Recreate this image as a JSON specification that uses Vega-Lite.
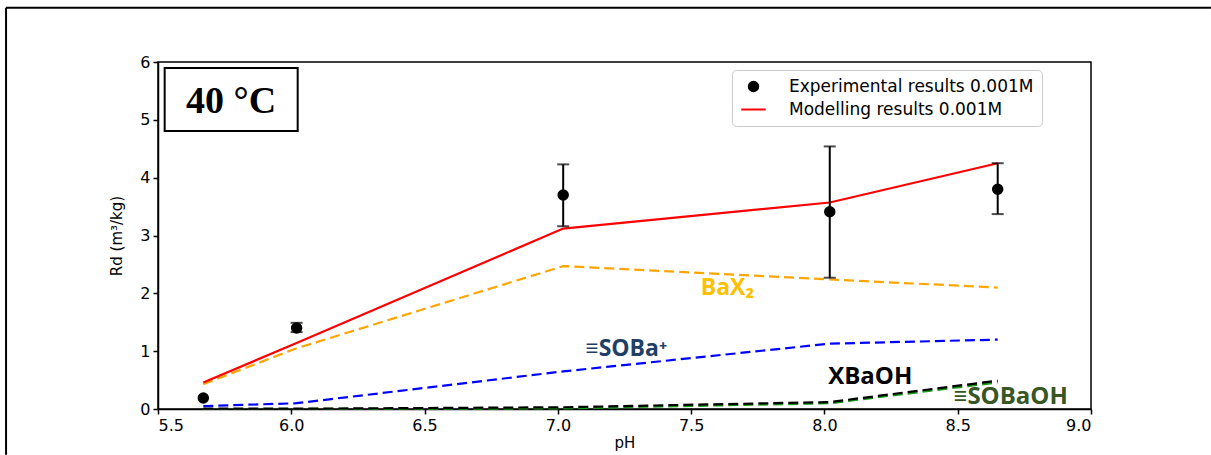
{
  "$schema": "https://vega.github.io/schema/vega-lite/v6.json",
  "autosize": "none",
  "width": 933,
  "height": 347,
  "padding": {"left": 158, "top": 62, "right": 120, "bottom": 46},
  "background": "white",
  "config": {
    "view": {"stroke": "black", "strokeWidth": 1.5},
    "axis": {
      "domainColor": "black", "domainWidth": 1.5, "tickColor": "black", "tickWidth": 1.5, "tickSize": 5,
      "labelColor": "black", "labelFont": "DejaVu Sans", "labelFontSize": 16,
      "titleFont": "DejaVu Sans", "titleFontSize": 15, "titleFontWeight": "normal", "titleColor": "black",
      "grid": false
    }
  },
  "datasets": {
    "model": [
      {"series": "Modelling", "pH": 5.67, "Rd": 0.46},
      {"series": "Modelling", "pH": 6.02, "Rd": 1.14},
      {"series": "Modelling", "pH": 7.02, "Rd": 3.12},
      {"series": "Modelling", "pH": 8.02, "Rd": 3.57},
      {"series": "Modelling", "pH": 8.65, "Rd": 4.25},
      {"series": "BaX2", "pH": 5.67, "Rd": 0.43},
      {"series": "BaX2", "pH": 6.02, "Rd": 1.05},
      {"series": "BaX2", "pH": 7.02, "Rd": 2.47},
      {"series": "BaX2", "pH": 8.02, "Rd": 2.24},
      {"series": "BaX2", "pH": 8.65, "Rd": 2.10},
      {"series": "SOBa", "pH": 5.67, "Rd": 0.05},
      {"series": "SOBa", "pH": 6.02, "Rd": 0.10},
      {"series": "SOBa", "pH": 7.02, "Rd": 0.65},
      {"series": "SOBa", "pH": 8.02, "Rd": 1.13},
      {"series": "SOBa", "pH": 8.65, "Rd": 1.20},
      {"series": "XBaOH", "pH": 5.67, "Rd": 0.005},
      {"series": "XBaOH", "pH": 6.02, "Rd": 0.005},
      {"series": "XBaOH", "pH": 7.02, "Rd": 0.03},
      {"series": "XBaOH", "pH": 8.02, "Rd": 0.12},
      {"series": "XBaOH", "pH": 8.65, "Rd": 0.49},
      {"series": "SOBaOH", "pH": 5.67, "Rd": 0.0},
      {"series": "SOBaOH", "pH": 6.02, "Rd": 0.0},
      {"series": "SOBaOH", "pH": 7.02, "Rd": 0.01},
      {"series": "SOBaOH", "pH": 8.02, "Rd": 0.10},
      {"series": "SOBaOH", "pH": 8.65, "Rd": 0.46}
    ],
    "exp": [
      {"series": "Experimental results 0.001M", "pH": 5.67, "Rd": 0.19},
      {"series": "Experimental results 0.001M", "pH": 6.02, "Rd": 1.40, "lo": 1.33, "hi": 1.49},
      {"series": "Experimental results 0.001M", "pH": 7.02, "Rd": 3.70, "lo": 3.16, "hi": 4.23},
      {"series": "Experimental results 0.001M", "pH": 8.02, "Rd": 3.41, "lo": 2.27, "hi": 4.54},
      {"series": "Experimental results 0.001M", "pH": 8.65, "Rd": 3.80, "lo": 3.37, "hi": 4.25}
    ]
  },
  "layer": [
    {
      "data": {"values": [
        {"x": 4.93, "x2": 9.45, "y": 6.94, "y2": 6.94},
        {"x": 4.93, "x2": 4.93, "y": 6.94, "y2": -0.79}
      ]},
      "mark": {"type": "rule", "color": "black", "strokeWidth": 2, "clip": false},
      "encoding": {
        "x": {"field": "x", "type": "quantitative", "scale": {"domain": [5.5, 9.0], "nice": false, "zero": false},
              "axis": {"title": "pH", "values": [5.5, 6.0, 6.5, 7.0, 7.5, 8.0, 8.5, 9.0], "format": ".1f", "labelPadding": 3, "titlePadding": 2}},
        "x2": {"field": "x2"},
        "y": {"field": "y", "type": "quantitative", "scale": {"domain": [0, 6], "nice": false, "zero": false},
              "axis": {"title": "Rd (m³/kg)", "values": [0, 1, 2, 3, 4, 5, 6], "format": "d", "labelPadding": 3, "titlePadding": 15}},
        "y2": {"field": "y2"}
      }
    },
    {
      "data": {"name": "model"},
      "transform": [{"filter": "datum.series == 'SOBaOH'"}],
      "mark": {"type": "line", "color": "#1a9a1a", "strokeWidth": 2.2, "strokeDash": [10, 5]},
      "encoding": {"x": {"field": "pH", "type": "quantitative"}, "y": {"field": "Rd", "type": "quantitative"}}
    },
    {
      "data": {"name": "model"},
      "transform": [{"filter": "datum.series == 'XBaOH'"}],
      "mark": {"type": "line", "color": "black", "strokeWidth": 2.2, "strokeDash": [10, 5]},
      "encoding": {"x": {"field": "pH", "type": "quantitative"}, "y": {"field": "Rd", "type": "quantitative"}}
    },
    {
      "data": {"name": "model"},
      "transform": [{"filter": "datum.series == 'SOBa'"}],
      "mark": {"type": "line", "color": "blue", "strokeWidth": 2.2, "strokeDash": [10, 5]},
      "encoding": {"x": {"field": "pH", "type": "quantitative"}, "y": {"field": "Rd", "type": "quantitative"}}
    },
    {
      "data": {"name": "model"},
      "transform": [{"filter": "datum.series == 'BaX2'"}],
      "mark": {"type": "line", "color": "#FFA500", "strokeWidth": 2.2, "strokeDash": [10, 5]},
      "encoding": {"x": {"field": "pH", "type": "quantitative"}, "y": {"field": "Rd", "type": "quantitative"}}
    },
    {
      "data": {"name": "model"},
      "transform": [{"filter": "datum.series == 'Modelling'"}],
      "mark": {"type": "line", "color": "red", "strokeWidth": 2.2},
      "encoding": {"x": {"field": "pH", "type": "quantitative"}, "y": {"field": "Rd", "type": "quantitative"}}
    },
    {
      "data": {"name": "exp"},
      "transform": [{"filter": "isValid(datum.lo)"}],
      "mark": {"type": "rule", "color": "black", "strokeWidth": 2},
      "encoding": {"x": {"field": "pH", "type": "quantitative"}, "y": {"field": "lo", "type": "quantitative"}, "y2": {"field": "hi"}}
    },
    {
      "data": {"name": "exp"},
      "transform": [{"filter": "isValid(datum.lo)"}],
      "mark": {"type": "tick", "color": "black", "orient": "horizontal", "size": 12, "thickness": 2},
      "encoding": {"x": {"field": "pH", "type": "quantitative"}, "y": {"field": "lo", "type": "quantitative"}}
    },
    {
      "data": {"name": "exp"},
      "transform": [{"filter": "isValid(datum.hi)"}],
      "mark": {"type": "tick", "color": "black", "orient": "horizontal", "size": 12, "thickness": 2},
      "encoding": {"x": {"field": "pH", "type": "quantitative"}, "y": {"field": "hi", "type": "quantitative"}}
    },
    {
      "data": {"name": "exp"},
      "mark": {"type": "point", "filled": false, "fill": "black", "fillOpacity": 1, "opacity": 1, "strokeWidth": 2},
      "encoding": {
        "x": {"field": "pH", "type": "quantitative"},
        "y": {"field": "Rd", "type": "quantitative"},
        "color": {"field": "series", "type": "nominal",
          "scale": {"domain": ["Experimental results 0.001M", "Modelling results 0.001M"], "range": ["black", "red"]},
          "legend": {
            "title": null, "orient": "none", "legendX": 574, "legendY": 8,
            "labelFont": "DejaVu Sans", "labelFontSize": 17, "labelColor": "black", "labelOffset": 22, "labelLimit": 500,
            "padding": 8, "rowPadding": 0, "strokeColor": "#cccccc", "fillColor": "white", "cornerRadius": 4,
            "symbolStrokeWidth": 2
          }},
        "shape": {"field": "series", "type": "nominal",
          "scale": {"domain": ["Experimental results 0.001M", "Modelling results 0.001M"], "range": ["circle", "stroke"]}},
        "size": {"field": "series", "type": "nominal",
          "scale": {"domain": ["Experimental results 0.001M", "Modelling results 0.001M"], "range": [90, 600]}}
      }
    },
    {
      "data": {"values": [{"x": 5.525, "x2": 6.024, "y": 5.898, "y2": 4.806}]},
      "mark": {"type": "rect", "fill": "white", "stroke": "black", "strokeWidth": 2},
      "encoding": {"x": {"field": "x", "type": "quantitative"}, "x2": {"field": "x2"}, "y": {"field": "y", "type": "quantitative"}, "y2": {"field": "y2"}}
    },
    {
      "data": {"values": [{"x": 5.774, "y": 5.317, "label": "40 °C"}]},
      "mark": {"type": "text", "font": "Liberation Serif", "fontWeight": "bold", "fontSize": 38, "color": "black", "align": "center", "baseline": "middle"},
      "encoding": {"x": {"field": "x", "type": "quantitative"}, "y": {"field": "y", "type": "quantitative"}, "text": {"field": "label"}}
    },
    {
      "data": {"values": [{"x": 7.636, "y": 2.10, "label": "BaX₂"}]},
      "mark": {"type": "text", "font": "Open Sans", "fontWeight": "bold", "fontSize": 23, "color": "#FFC000", "align": "center", "baseline": "middle"},
      "encoding": {"x": {"field": "x", "type": "quantitative"}, "y": {"field": "y", "type": "quantitative"}, "text": {"field": "label"}}
    },
    {
      "data": {"values": [{"x": 7.257, "y": 1.045, "label": "≡SOBa⁺"}]},
      "mark": {"type": "text", "font": "Open Sans", "fontWeight": "bold", "fontSize": 23, "color": "#1F3F66", "align": "center", "baseline": "middle"},
      "encoding": {"x": {"field": "x", "type": "quantitative"}, "y": {"field": "y", "type": "quantitative"}, "text": {"field": "label"}}
    },
    {
      "data": {"values": [{"x": 8.172, "y": 0.56, "label": "XBaOH"}]},
      "mark": {"type": "text", "font": "Open Sans", "fontWeight": "bold", "fontSize": 24, "color": "black", "align": "center", "baseline": "middle"},
      "encoding": {"x": {"field": "x", "type": "quantitative"}, "y": {"field": "y", "type": "quantitative"}, "text": {"field": "label"}}
    },
    {
      "data": {"values": [{"x": 8.699, "y": 0.21, "label": "≡SOBaOH"}]},
      "mark": {"type": "text", "font": "Open Sans", "fontWeight": "bold", "fontSize": 24, "color": "#375623", "align": "center", "baseline": "middle"},
      "encoding": {"x": {"field": "x", "type": "quantitative"}, "y": {"field": "y", "type": "quantitative"}, "text": {"field": "label"}}
    }
  ]
}
